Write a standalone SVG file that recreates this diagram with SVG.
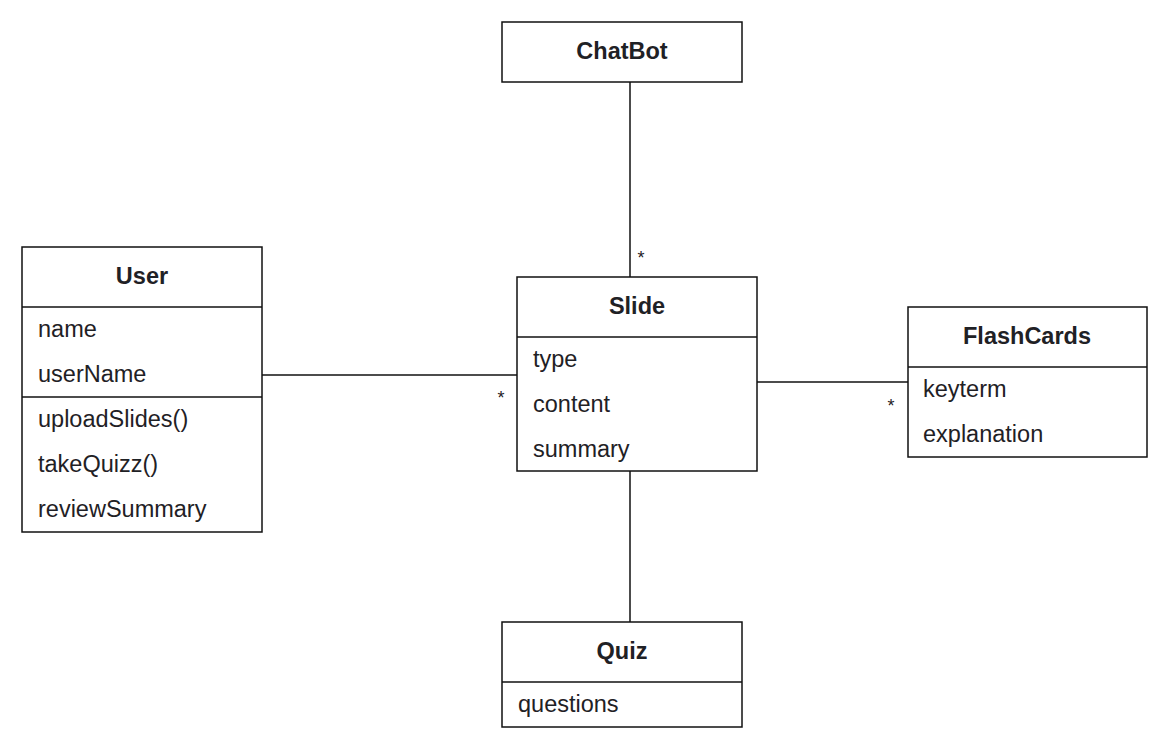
<svg xmlns="http://www.w3.org/2000/svg" width="1170" height="750" viewBox="0 0 1170 750">
<style>
.box{fill:#fff;stroke:#111;stroke-width:1.5}
.div{stroke:#111;stroke-width:1.5}
.title{font-family:"Liberation Sans",Arial,sans-serif;font-size:23.5px;font-weight:bold;fill:#1f2125;text-anchor:middle}
.item{font-family:"Liberation Sans",Arial,sans-serif;font-size:23.5px;fill:#1f2125}
.mult{font-family:"Liberation Sans",Arial,sans-serif;font-size:18px;fill:#1f2125;text-anchor:middle}
.conn{stroke:#111;stroke-width:1.5;fill:none}
</style>
<rect width="1170" height="750" fill="#fff"/>
<g id="connectors">
<line class="conn" x1="262" y1="375" x2="517" y2="375"/>
<line class="conn" x1="630" y1="82" x2="630" y2="277"/>
<line class="conn" x1="757" y1="382" x2="908" y2="382"/>
<line class="conn" x1="630" y1="471" x2="630" y2="622"/>
<text class="mult" x="501" y="404">*</text>
<text class="mult" x="641" y="264">*</text>
<text class="mult" x="891" y="412">*</text>
</g>
<g id="user">
<rect class="box" x="22" y="247" width="240" height="285"/>
<line class="div" x1="22" y1="307" x2="262" y2="307"/>
<line class="div" x1="22" y1="397" x2="262" y2="397"/>
<text class="title" x="142" y="284">User</text>
<text class="item" x="38" y="337">name</text>
<text class="item" x="38" y="382">userName</text>
<text class="item" x="38" y="427">uploadSlides()</text>
<text class="item" x="38" y="472">takeQuizz()</text>
<text class="item" x="38" y="517">reviewSummary</text>
</g>
<g id="slide">
<rect class="box" x="517" y="277" width="240" height="194"/>
<line class="div" x1="517" y1="337" x2="757" y2="337"/>
<text class="title" x="637" y="314">Slide</text>
<text class="item" x="533" y="367">type</text>
<text class="item" x="533" y="412">content</text>
<text class="item" x="533" y="457">summary</text>
</g>
<g id="flashcards">
<rect class="box" x="908" y="307" width="239" height="150"/>
<line class="div" x1="908" y1="367" x2="1147" y2="367"/>
<text class="title" x="1027" y="344">FlashCards</text>
<text class="item" x="923" y="397">keyterm</text>
<text class="item" x="923" y="442">explanation</text>
</g>
<g id="chatbot">
<rect class="box" x="502" y="22" width="240" height="60"/>
<text class="title" x="622" y="59">ChatBot</text>
</g>
<g id="quiz">
<rect class="box" x="502" y="622" width="240" height="105"/>
<line class="div" x1="502" y1="682" x2="742" y2="682"/>
<text class="title" x="622" y="659">Quiz</text>
<text class="item" x="518" y="712">questions</text>
</g>
</svg>
